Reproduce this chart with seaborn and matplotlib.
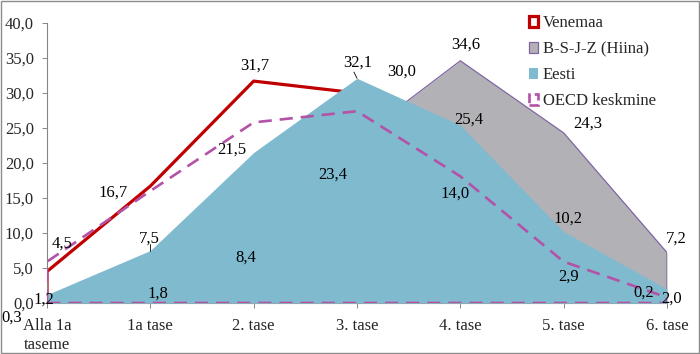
import numpy as np
import matplotlib
matplotlib.use("Agg")
import matplotlib.pyplot as plt
from matplotlib.patches import Patch, Rectangle
import seaborn as sns

# categories and series (percent of students per proficiency level)
levels = ["Alla 1a\ntaseme", "1a tase", "2. tase", "3. tase", "4. tase", "5. tase", "6. tase"]
venemaa = [4.5, 16.7, 31.7, 30.0, 14.0, 2.9, 0.2]
hiina = [0.3, 1.8, 8.4, 23.4, 34.6, 24.3, 7.2]
eesti = [1.2, 7.5, 21.5, 32.1, 25.4, 10.2, 2.0]
oecd = [5.9, 16.0, 25.8, 27.4, 18.1, 5.9, 0.8]
yticks = [0, 5, 10, 15, 20, 25, 30, 35, 40]

# label offsets in pixels (dx, dy up)
off_ven = [(15, 28), (-37, -7), (1, 15), (45, 21), (-5, 11), (5, 6), (-23, 9)]
off_hii = [(-35, -17), (8, -3), (-8, -13), (-24, -35), (5, 16), (24, 9), (9, 14)]
off_ees = [(-3, -5), (-1, 12), (-22, 3), (1, 16), (8, 6), (4, 13), (5, -10)]

RED = "#C00000"
GRAY = "#B2B2B6"
PURPLE = "#8064A2"
BLUE = "#80BACE"
MAGENTA = "#B352A6"
FS = 12

sns.set_theme(style="white")
plt.rcParams["font.family"] = ["Liberation Serif", "DejaVu Serif"]
plt.rcParams["font.size"] = FS

fig = plt.figure(figsize=(7, 3.54), dpi=100)
ax = fig.add_axes([47 / 700, 1 - 303 / 354, 620 / 700, 280 / 354])

x = np.arange(len(levels))


def outline(vals):
    xs = np.concatenate([[x[0]], x, [x[-1], x[0]]])
    ys = np.concatenate([[0], vals, [0, 0]])
    return xs, ys


# Venemaa: white area with red border
ax.fill_between(x, venemaa, 0, color="white", zorder=1)
xs, ys = outline(venemaa)
sns.lineplot(x=xs, y=ys, sort=False, estimator=None, color=RED, lw=2.3, ax=ax, zorder=2)

# B-S-J-Z: gray area with purple border
ax.fill_between(x, hiina, 0, color=GRAY, lw=0, zorder=3)
xs, ys = outline(hiina)
sns.lineplot(x=xs, y=ys, sort=False, estimator=None, color=PURPLE, lw=0.9, ax=ax, zorder=4)

# Eesti: blue area
ax.fill_between(x, eesti, 0, color=BLUE, lw=0, zorder=5)

# OECD: dashed outline only
xs, ys = outline(oecd)
sns.lineplot(x=xs, y=ys, sort=False, estimator=None, color=MAGENTA, lw=1.9,
             dashes=False, ax=ax, zorder=6)
ax.lines[-1].set_dashes((5, 3))

# data labels
for vals, offs in [(venemaa, off_ven), (hiina, off_hii), (eesti, off_ees)]:
    for i, v in enumerate(vals):
        ax.annotate(f"{v:.1f}".replace(".", ","), (x[i], v), xytext=offs[i],
                    textcoords="offset pixels", ha="center", va="center",
                    fontsize=FS, color="black", zorder=10, annotation_clip=False)
# small leader lines
ax.plot([x[1], x[1]], [eesti[1], eesti[1] + 0.9], color="black", lw=0.6, zorder=9)
ax.plot([x[3] - 0.03, x[3]], [eesti[3] + 0.9, eesti[3]], color="black", lw=0.6, zorder=9)

ax.set_xlim(0, 6)
ax.set_ylim(0, 40)
ax.set_xticks(x)
ax.set_xticklabels(levels)
ax.set_yticks(yticks)
ax.set_yticklabels([f"{t:.1f}".replace(".", ",") for t in yticks])
ax.set_xlabel("")
ax.set_ylabel("")
ax.tick_params(axis="both", labelsize=FS, length=3.5, width=0.7, color="#868686",
               direction="out", left=True, bottom=True)
ax.tick_params(axis="y", pad=6)
ax.tick_params(axis="x", pad=7.5)
for s in ["top", "right"]:
    ax.spines[s].set_visible(False)
for s in ["left", "bottom"]:
    ax.spines[s].set_color("#868686")
    ax.spines[s].set_linewidth(0.8)
ax.set_facecolor("white")

handles = [
    Patch(facecolor="white", edgecolor=RED, lw=2.3),
    Patch(facecolor=GRAY, edgecolor=PURPLE, lw=0.9),
    Patch(facecolor=BLUE, edgecolor="none"),
    Patch(facecolor="none", edgecolor=MAGENTA, lw=1.9, linestyle="--"),
]
labels = ["Venemaa", "B-S-J-Z (Hiina)", "Eesti", "OECD keskmine"]
fig.legend(handles, labels, loc="upper left", bbox_to_anchor=(521 / 700, 1 - 7 / 354),
           frameon=False, fontsize=FS, handlelength=0.5, handleheight=0.6,
           handletextpad=0.3, labelspacing=0.6, borderpad=0)

fig.patches.append(Rectangle((0.001, 0.002), 0.997, 0.995, transform=fig.transFigure,
                             fill=False, edgecolor="#8C8C8C", lw=1))

fig.savefig("out.png", dpi=100)
